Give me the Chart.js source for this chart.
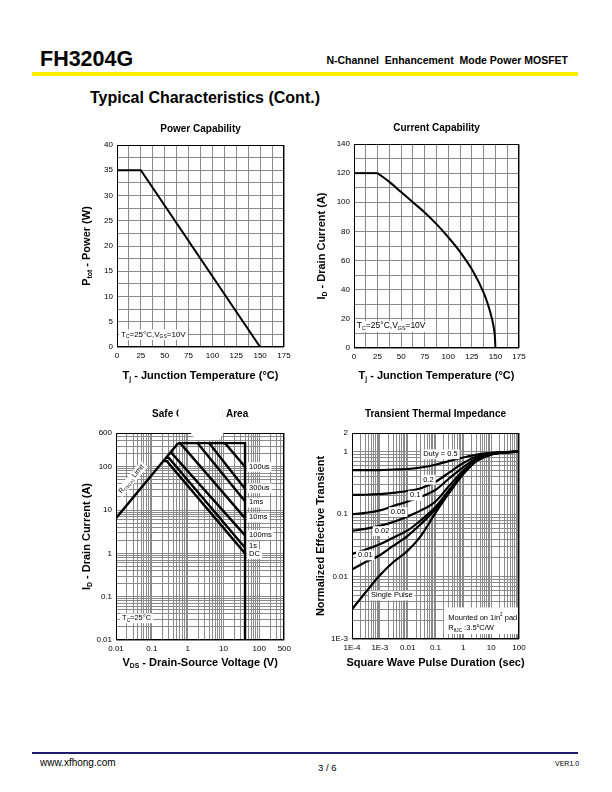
<!DOCTYPE html>
<html><head><meta charset="utf-8">
<script src="https://cdn.jsdelivr.net/npm/chart.js@4.4.1/dist/chart.umd.min.js"></script>
<style>
html,body{margin:0;padding:0;background:#fff;}
#page{position:relative;width:612px;height:792px;overflow:hidden;font-family:"Liberation Sans",Arial,Helvetica,sans-serif;color:#000;}
#page canvas{position:absolute;}
.t{position:absolute;white-space:nowrap;line-height:1;}
</style></head><body>
<div id="page">
  <div class="t" style="left:40px;top:49px;font-weight:bold;font-size:21.5px;">FH3204G</div>
  <div class="t" style="right:44px;top:55px;font-weight:bold;font-size:11px;transform:scaleX(0.955);transform-origin:100% 50%;">N-Channel&nbsp; Enhancement&nbsp; Mode&nbsp;Power&nbsp;MOSFET</div>
  <div style="position:absolute;left:32px;top:72px;width:546px;height:4px;background:#ffee00;"></div>
  <div class="t" style="left:90px;top:90px;font-weight:bold;font-size:16px;">Typical Characteristics (Cont.)</div>
  <canvas id="c1" width="240" height="275" style="left:55px;top:112px;"></canvas>
  <canvas id="c2" width="240" height="275" style="left:292px;top:112px;"></canvas>
  <canvas id="c3" width="240" height="275" style="left:55px;top:400px;"></canvas>
  <canvas id="c4" width="240" height="275" style="left:292px;top:400px;"></canvas>
  <div style="position:absolute;left:32px;top:752px;width:546px;height:2px;background:#1c1c6b;"></div>
  <div class="t" style="left:40px;top:758px;font-size:10px;">www.xfhong.com</div>
  <div class="t" style="left:318px;top:763px;font-size:9.5px;">3 / 6</div>
  <div class="t" style="left:555px;top:760px;font-size:7px;">VER1.0</div>
</div>
<script>
// ================= DATA =================
// Power Capability
const powerTemp  = [0, 25, 150];
const powerWatts = [35, 35, 0];
const powerXTicks = [0, 25, 50, 75, 100, 125, 150, 175];
const powerYTicks = [0, 5, 10, 15, 20, 25, 30, 35, 40];

// Current Capability
const currentTemp = [0, 25, 37.5, 50, 62.5, 75, 87.5, 100, 112.5, 125, 137.5, 142, 146, 148.5, 149.5, 150];
const currentAmps = [120, 120, 114, 107, 100, 93, 85, 76, 66, 54, 38, 30, 21, 13, 7, 0];
const currentXTicks = [0, 25, 50, 75, 100, 125, 150, 175];
const currentYTicks = [0, 20, 40, 60, 80, 100, 120, 140];

// Safe Operating Area
const soaXTicks = [0.01, 0.1, 1, 10, 100, 500];
const soaYTicks = [0.01, 0.1, 1, 10, 100, 600];
const rdsLimitV = [0.01, 0.54];
const rdsLimitI = [6.5, 350];
const outerLimitV = [0.54, 40, 40];
const outerLimitI = [350, 350, 0.01];
const soaNames = ['100us', '300us', '1ms', '10ms', '100ms', '1s', 'DC'];
const soa100usV = [11, 40],           soa100usI = [350, 100];
const soa300usV = [4, 40],            soa300usI = [350, 31];
const soa1msV   = [1.9, 40],          soa1msI   = [350, 16];
const soa10msV  = [0.62, 40],         soa10msI  = [350, 6.5];
const soa100msV = [0.31, 0.36, 40],   soa100msI = [205, 205, 2.6];
const soa1sV    = [0.25, 0.3, 40],    soa1sI    = [160, 160, 1.35];
const soaDCV    = [0.21, 0.26, 40],   soaDCI    = [135, 135, 1.0];
const soaLabelI = [100, 32, 15, 6.8, 2.7, 1.45, 0.97];

// Transient Thermal Impedance
const thermXTicks = [1e-4, 1e-3, 0.01, 0.1, 1, 10, 100];
const thermXText  = ['1E-4', '1E-3', '0.01', '0.1', '1', '10', '100'];
const thermYTicks = [1e-3, 0.01, 0.1, 1, 2];
const thermYText  = ['1E-3', '0.01', '0.1', '1', '2'];
const pulseTime = [1e-4, 3e-4, 1e-3, 3e-3, 0.01, 0.03, 0.1, 0.3, 1, 3, 10, 30, 100];
const duty05  = [0.51, 0.51, 0.51, 0.52, 0.53, 0.56, 0.62, 0.71, 0.81, 0.9, 0.96, 0.99, 1.0];
const duty02  = [0.204, 0.205, 0.21, 0.22, 0.235, 0.26, 0.33, 0.46, 0.66, 0.84, 0.94, 0.98, 1.0];
const duty01  = [0.10, 0.105, 0.115, 0.135, 0.16, 0.19, 0.245, 0.37, 0.57, 0.79, 0.93, 0.98, 1.0];
const duty005 = [0.054, 0.058, 0.065, 0.075, 0.092, 0.115, 0.16, 0.28, 0.5, 0.75, 0.92, 0.98, 1.0];
const duty002 = [0.023, 0.027, 0.033, 0.042, 0.055, 0.08, 0.13, 0.24, 0.46, 0.73, 0.91, 0.98, 1.0];
const duty001 = [0.013, 0.017, 0.022, 0.031, 0.045, 0.07, 0.12, 0.23, 0.45, 0.72, 0.91, 0.98, 1.0];
const singlePulse = [0.003, 0.0055, 0.0105, 0.017, 0.026, 0.045, 0.105, 0.215, 0.44, 0.71, 0.9, 0.98, 1.0];

// ================= HELPERS =================
const FONT = '"Liberation Sans", Arial, Helvetica, sans-serif';
const GRID = '#8a8a8a';
function pts(xs, ys) { return xs.map((x, i) => ({ x: x, y: ys[i] })); }
function logGrid(min, max) {
  const out = [];
  for (let e = Math.floor(Math.log10(min)); e <= Math.ceil(Math.log10(max)); e++) {
    for (let m = 1; m <= 9; m++) {
      const v = parseFloat((m * Math.pow(10, e)).toPrecision(6));
      if (v >= min * 0.9999 && v <= max * 1.0001) out.push(v);
    }
  }
  if (Math.abs(out[out.length - 1] / max - 1) > 1e-6) out.push(max);
  return out;
}
function findLabel(v, vals, texts) {
  for (let i = 0; i < vals.length; i++) if (Math.abs(v / vals[i] - 1) < 1e-6) return texts ? texts[i] : String(vals[i]);
  return '';
}
function line(data, w) {
  return { data: data, showLine: true, borderColor: '#000', borderWidth: w || 2, pointRadius: 0, tension: 0, fill: false };
}
function setFont(ctx, size, bold) { ctx.font = (bold ? 'bold ' : '') + size + 'px ' + FONT; }
// parts: [text, mode] mode 0 normal, 1 subscript, 2 superscript
function richWidth(ctx, parts, size, bold) {
  let w = 0;
  parts.forEach(p => { setFont(ctx, p[1] ? size * 0.62 : size, bold); w += ctx.measureText(p[0]).width; });
  return w;
}
function drawRich(ctx, parts, x, y, align, size, bold) {
  const total = richWidth(ctx, parts, size, bold);
  let cx = align === 'center' ? x - total / 2 : (align === 'right' ? x - total : x);
  ctx.textAlign = 'left'; ctx.textBaseline = 'middle'; ctx.fillStyle = '#000';
  parts.forEach(p => {
    setFont(ctx, p[1] ? size * 0.62 : size, bold);
    const dy = p[1] === 1 ? size * 0.32 : (p[1] === 2 ? -size * 0.35 : 0);
    ctx.fillText(p[0], cx, y + dy);
    cx += ctx.measureText(p[0]).width;
  });
  return total;
}

const DECO = {};
const decoPlugin = {
  id: 'deco',
  afterDatasetsDraw(chart) {
    const d = DECO[chart.canvas.id]; if (!d) return;
    const ctx = chart.ctx, a = chart.chartArea, sx = chart.scales.x, sy = chart.scales.y;
    ctx.save();
    // white boxes (data coords)
    (d.boxes || []).forEach(b => {
      ctx.fillStyle = '#fff';
      const x0 = sx.getPixelForValue(b[0]), x1 = Math.min(sx.getPixelForValue(b[2]), a.right - 1);
      const y0 = sy.getPixelForValue(b[3]), y1 = sy.getPixelForValue(b[1]);
      ctx.fillRect(x0, y0, x1 - x0, y1 - y0);
    });
    // notes
    (d.notes || []).forEach(n => {
      const px = sx.getPixelForValue(n.x), py = sy.getPixelForValue(n.y);
      const size = n.size || 8;
      ctx.save();
      ctx.translate(px, py);
      if (n.rot) ctx.rotate(n.rot);
      const w = richWidth(ctx, n.parts, size, false);
      const left = n.align === 'center' ? -w / 2 : 0;
      if (n.bg !== false) { ctx.fillStyle = '#fff'; ctx.fillRect(left - 2, -size * 0.62, w + 4, size * 1.3); }
      drawRich(ctx, n.parts, 0, 0, n.align || 'left', size, false);
      ctx.restore();
    });
    // frame
    ctx.strokeStyle = '#000'; ctx.lineWidth = 1;
    ctx.strokeRect(Math.round(a.left) + 0.5, Math.round(a.top) + 0.5, Math.round(a.right - a.left) - 1, Math.round(a.bottom - a.top) - 1);
    // titles
    const cxm = (a.left + a.right) / 2;
    drawRich(ctx, [[d.title, 0]], cxm, a.top - d.titleDy, 'center', 10, true);
    drawRich(ctx, d.xTitle, cxm, a.bottom + d.xTitleDy, 'center', 11, true);
    ctx.save();
    ctx.translate(a.left - d.yTitleDx, (a.top + a.bottom) / 2);
    ctx.rotate(-Math.PI / 2);
    drawRich(ctx, d.yTitle, 0, 0, 'center', 11, true);
    ctx.restore();
    if (d.after) d.after(ctx, chart);
    ctx.restore();
  }
};

function baseOptions(cfg) {
  const tickFont = { family: FONT, size: 8 };
  return {
    responsive: false, animation: false, events: [],
    layout: { padding: { left: 0, top: cfg.padTop, right: cfg.padRight, bottom: 0 } },
    plugins: { legend: { display: false }, tooltip: { enabled: false }, title: { display: false } },
    scales: {
      x: Object.assign({
        type: cfg.xType, position: 'bottom', min: cfg.xMin, max: cfg.xMax,
        grid: { color: GRID, lineWidth: 1, drawTicks: false },
        border: { display: false },
        ticks: { font: tickFont, color: '#000', padding: 4, autoSkip: false, maxRotation: 0, minRotation: 0, callback: cfg.xCb },
        afterFit: s => { s.height = cfg.xH; }
      }, cfg.xExtra || {}),
      y: Object.assign({
        type: cfg.yType, position: 'left', min: cfg.yMin, max: cfg.yMax,
        grid: { color: GRID, lineWidth: 1, drawTicks: false },
        border: { display: false },
        ticks: { font: tickFont, color: '#000', padding: 4, autoSkip: false, callback: cfg.yCb },
        afterFit: s => { s.width = cfg.yW; }
      }, cfg.yExtra || {})
    }
  };
}

// ================= CHART 1: Power Capability =================
DECO.c1 = {
  title: 'Power Capability', titleDy: 16, xTitleDy: 29, yTitleDx: 30,
  xTitle: [['T', 0], ['j', 1], [' - Junction Temperature (°C)', 0]],
  yTitle: [['P', 0], ['tot', 1], [' - Power (W)', 0]],
  notes: [{ x: 4.2, y: 2.5, parts: [['T', 0], ['C', 1], ['=25°C,V', 0], ['GS', 1], ['=10V', 0]], size: 8 }]
};
new Chart(document.getElementById('c1'), {
  type: 'scatter',
  data: { datasets: [line(pts(powerTemp, powerWatts), 2)] },
  options: baseOptions({
    padTop: 33, padRight: 11, xH: 40, yW: 62,
    xType: 'linear', xMin: 0, xMax: 175, yType: 'linear', yMin: 0, yMax: 40,
    xExtra: { ticks: { font: { family: FONT, size: 8 }, color: '#000', padding: 4, autoSkip: false, maxRotation: 0, stepSize: 12.5,
      callback: v => powerXTicks.includes(v) ? String(v) : '' } },
    yExtra: { ticks: { font: { family: FONT, size: 8 }, color: '#000', padding: 4, autoSkip: false, stepSize: 2.5,
      callback: v => powerYTicks.includes(v) ? String(v) : '' } }
  }),
  plugins: [decoPlugin]
});

// ================= CHART 2: Current Capability =================
DECO.c2 = {
  title: 'Current Capability', titleDy: 16, xTitleDy: 28, yTitleDx: 32,
  xTitle: [['T', 0], ['j', 1], [' - Junction Temperature (°C)', 0]],
  yTitle: [['I', 0], ['D', 1], [' - Drain Current (A)', 0]],
  notes: [{ x: 3, y: 15, parts: [['T', 0], ['C', 1], ['=25°C,V', 0], ['GS', 1], ['=10V', 0]], size: 8.5 }]
};
new Chart(document.getElementById('c2'), {
  type: 'scatter',
  data: { datasets: [
    line(pts(currentTemp.slice(0, 2), currentAmps.slice(0, 2)), 2),
    Object.assign(line(pts(currentTemp.slice(1), currentAmps.slice(1)), 2), { cubicInterpolationMode: 'monotone', tension: 0.4 })
  ] },
  options: baseOptions({
    padTop: 32, padRight: 13, xH: 39, yW: 62,
    xType: 'linear', xMin: 0, xMax: 175, yType: 'linear', yMin: 0, yMax: 140,
    xExtra: { ticks: { font: { family: FONT, size: 8 }, color: '#000', padding: 4, autoSkip: false, maxRotation: 0, stepSize: 12.5,
      callback: v => currentXTicks.includes(v) ? String(v) : '' } },
    yExtra: { ticks: { font: { family: FONT, size: 8 }, color: '#000', padding: 4, autoSkip: false, stepSize: 10,
      callback: v => currentYTicks.includes(v) ? String(v) : '' } }
  }),
  plugins: [decoPlugin]
});

// ================= CHART 3: Safe Operating Area =================
const soaLineV = [soa100usV, soa300usV, soa1msV, soa10msV, soa100msV, soa1sV, soaDCV];
const soaLineI = [soa100usI, soa300usI, soa1msI, soa10msI, soa100msI, soa1sI, soaDCI];
DECO.c3 = {
  title: 'Safe Operating Area', titleDy: 19, xTitleDy: 23, yTitleDx: 29,
  xTitle: [['V', 0], ['DS', 1], [' - Drain-Source Voltage (V)', 0]],
  yTitle: [['I', 0], ['D', 1], [' - Drain Current (A)', 0]],
  notes: soaNames.map((n, i) => ({ x: 52, y: soaLabelI[i], parts: [[n, 0]], size: 7.5 }))
    .concat([
      { x: 0.0148, y: 0.032, parts: [['T', 0], ['C', 1], ['=25°C', 0]], size: 7.5 },
      { x: 0.027, y: 52, parts: [['R', 0], ['DS(on)', 1], [' Limit', 0]], size: 7, align: 'center', rot: -0.87 }
    ]),
  after: (ctx, chart) => {
    // partially hidden title (as on the reference)
    const a = chart.chartArea, cxm = (a.left + a.right) / 2;
    setFont(ctx, 10, true);
    const full = ctx.measureText('Safe Operating Area').width;
    const w1 = ctx.measureText('Safe ').width, w2 = ctx.measureText('Safe Operating').width;
    const x0 = cxm - full / 2;
    ctx.fillStyle = '#fff';
    ctx.fillRect(x0 + w1 + 2.5, a.top - 27, w2 - w1 - 3, 16);
    ctx.beginPath();
    ctx.moveTo(x0 + w1 + 14, a.top - 1); ctx.lineTo(x0 + w2 + 1, a.top - 1);
    ctx.lineTo(x0 + w2 - 4, a.top + 7); ctx.lineTo(x0 + w1 + 20, a.top + 7); ctx.closePath(); ctx.fill();
  }
};
const soaGridX = logGrid(0.01, 500), soaGridY = logGrid(0.01, 600);
new Chart(document.getElementById('c3'), {
  type: 'scatter',
  data: { datasets: [
    line(pts(rdsLimitV, rdsLimitI), 2.4),
    line(pts(outerLimitV, outerLimitI), 2.4)
  ].concat(soaLineV.map((v, i) => line(pts(v, soaLineI[i]), 2.4))) },
  options: baseOptions({
    padTop: 33, padRight: 10, xH: 35, yW: 61,
    xType: 'logarithmic', xMin: 0.01, xMax: 500, yType: 'logarithmic', yMin: 0.01, yMax: 600,
    xCb: v => findLabel(v, soaXTicks), yCb: v => findLabel(v, soaYTicks),
    xExtra: { afterBuildTicks: s => { s.ticks = soaGridX.map(v => ({ value: v })); } },
    yExtra: { afterBuildTicks: s => { s.ticks = soaGridY.map(v => ({ value: v })); } }
  }),
  plugins: [decoPlugin]
});

// ================= CHART 4: Transient Thermal Impedance =================
DECO.c4 = {
  title: 'Transient Thermal Impedance', titleDy: 19, xTitleDy: 24, yTitleDx: 31,
  xTitle: [['Square Wave Pulse Duration (sec)', 0]],
  yTitle: [['Normalized Effective Transient', 0]],
  boxes: [[0.2, 0.0012, 100, 0.0032]],
  notes: [
    { x: 0.15, y: 0.92, parts: [['Duty = 0.5', 0]], size: 7.5, align: 'center' },
    { x: 0.056, y: 0.36, parts: [['0.2', 0]], size: 7.5, align: 'center' },
    { x: 0.0185, y: 0.2, parts: [['0.1', 0]], size: 7.5, align: 'center' },
    { x: 0.0045, y: 0.109, parts: [['0.05', 0]], size: 7.5, align: 'center' },
    { x: 0.0012, y: 0.054, parts: [['0.02', 0]], size: 7.5, align: 'center' },
    { x: 0.0003, y: 0.022, parts: [['0.01', 0]], size: 7.5, align: 'center' },
    { x: 0.0027, y: 0.005, parts: [['Single Pulse', 0]], size: 7.5, align: 'center' },
    { x: 0.29, y: 0.0022, parts: [['Mounted on 1in', 0], ['2', 2], [' pad', 0]], size: 7.5, bg: false },
    { x: 0.29, y: 0.00148, parts: [['R', 0], ['θJC', 1], [' :3.5', 0], ['o', 2], ['C/W', 0]], size: 7.5, bg: false }
  ]
};
const thermGridX = logGrid(1e-4, 100), thermGridY = logGrid(1e-3, 2);
const thermSeries = [duty05, duty02, duty01, duty005, duty002, duty001, singlePulse];
new Chart(document.getElementById('c4'), {
  type: 'scatter',
  data: { datasets: thermSeries.map(s => Object.assign(line(pts(pulseTime, s), 2.2), { cubicInterpolationMode: 'monotone', tension: 0.4 })) },
  options: baseOptions({
    padTop: 33, padRight: 13, xH: 36, yW: 60,
    xType: 'logarithmic', xMin: 1e-4, xMax: 100, yType: 'logarithmic', yMin: 1e-3, yMax: 2,
    xCb: v => findLabel(v, thermXTicks, thermXText), yCb: v => findLabel(v, thermYTicks, thermYText),
    xExtra: { afterBuildTicks: s => { s.ticks = thermGridX.map(v => ({ value: v })); } },
    yExtra: { afterBuildTicks: s => { s.ticks = thermGridY.map(v => ({ value: v })); } }
  }),
  plugins: [decoPlugin]
});
</script>
</body></html>
